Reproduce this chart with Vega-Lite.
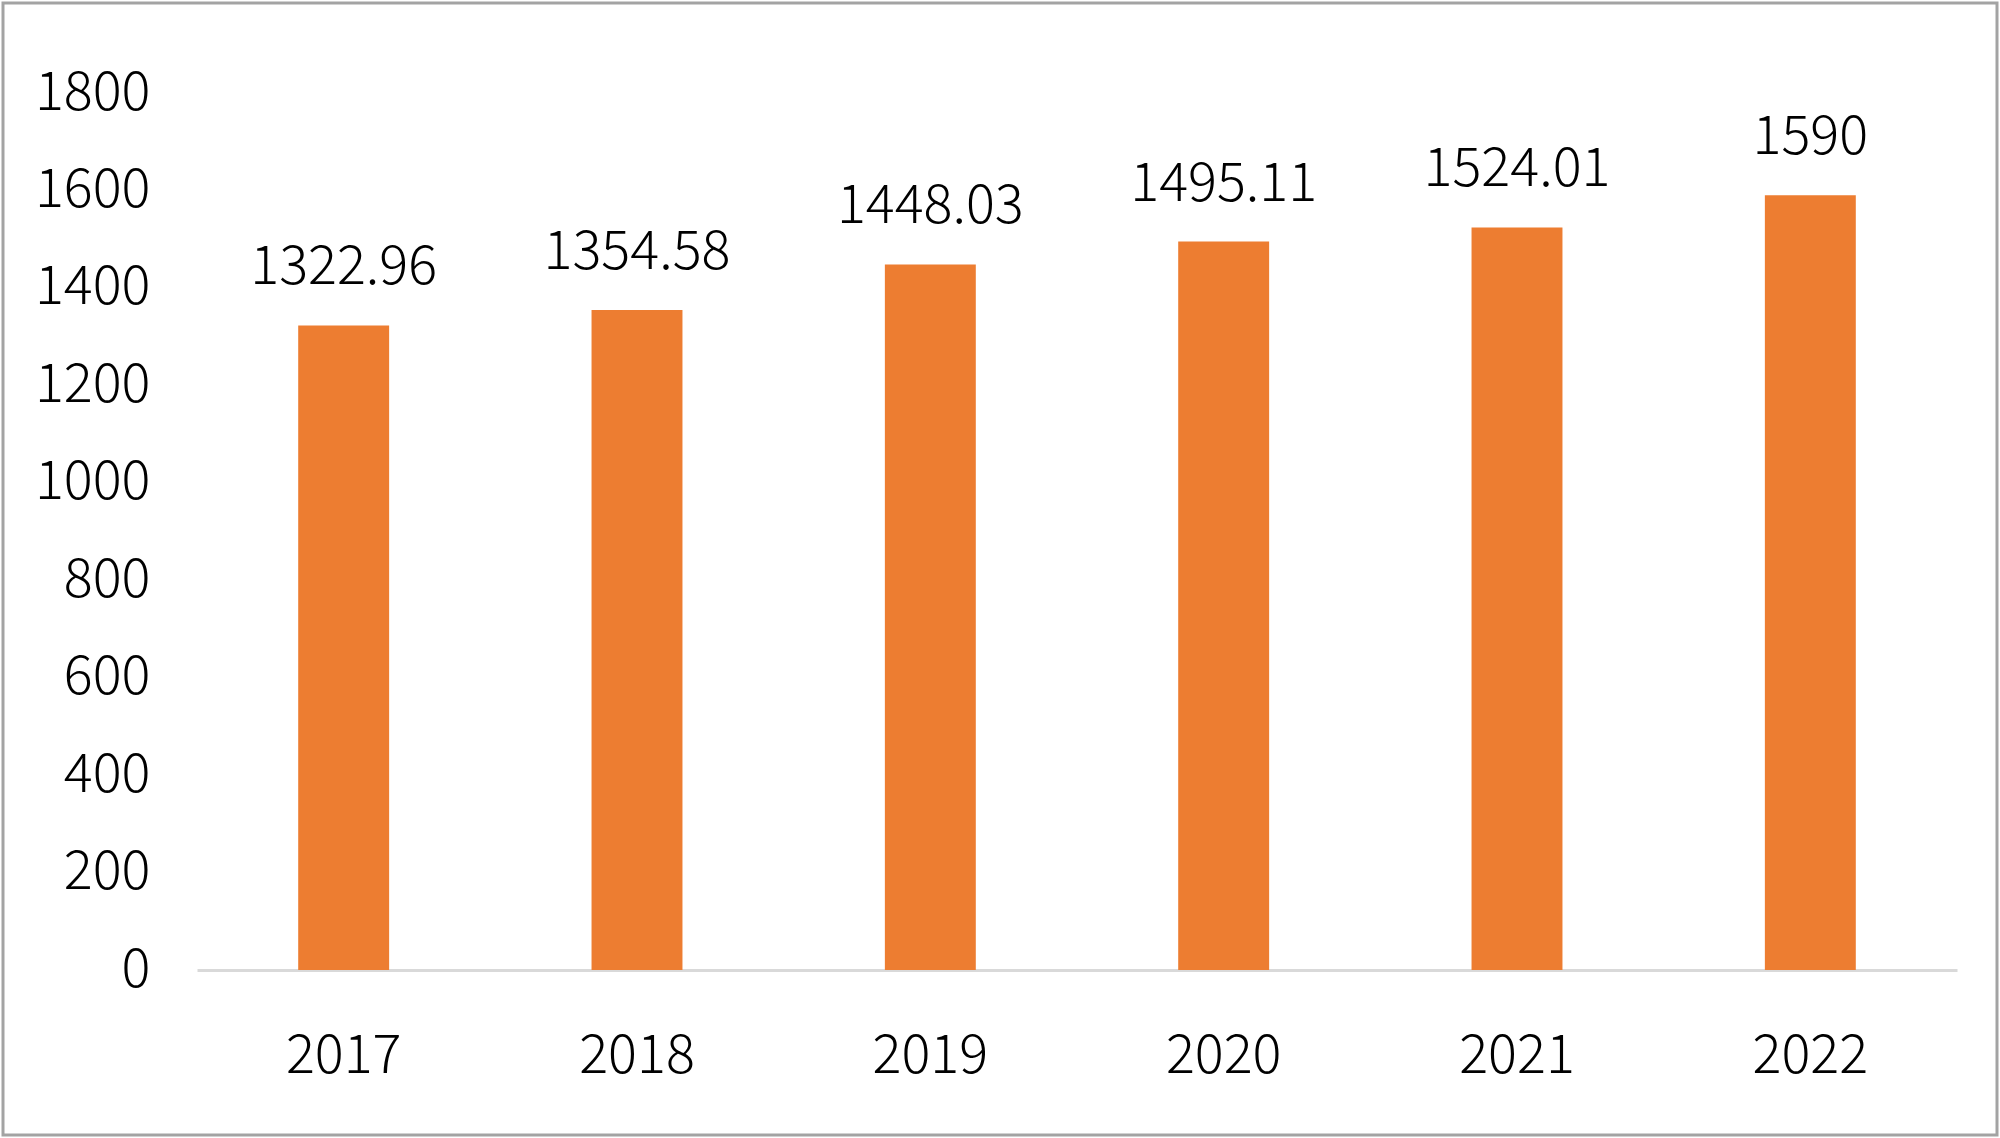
{
  "$schema": "https://vega.github.io/schema/vega-lite/v6.json",
  "width": 1994,
  "height": 1132,
  "padding": 3,
  "autosize": {"type": "none"},
  "background": "white",
  "config": {
    "view": {"stroke": "#a3a3a3", "strokeWidth": 3, "fill": "white"},
    "font": "Noto Sans CJK SC"
  },
  "data": {
    "values": [
      {"year": "2017", "value": 1322.96, "label": "1322.96"},
      {"year": "2018", "value": 1354.58, "label": "1354.58"},
      {"year": "2019", "value": 1448.03, "label": "1448.03"},
      {"year": "2020", "value": 1495.11, "label": "1495.11"},
      {"year": "2021", "value": 1524.01, "label": "1524.01"},
      {"year": "2022", "value": 1590, "label": "1590"}
    ]
  },
  "encoding": {
    "x": {
      "field": "year",
      "type": "ordinal",
      "sort": null,
      "scale": {"range": [194, 1954], "paddingInner": 0.69, "paddingOuter": 0.345},
      "axis": {
        "orient": "bottom",
        "offset": -165,
        "title": null,
        "labelAngle": 0,
        "domain": true,
        "domainColor": "#d9d9d9",
        "domainWidth": 3,
        "ticks": false,
        "tickSize": 0,
        "grid": false,
        "labelFontSize": 54,
        "labelFontWeight": 300,
        "labelColor": "#000000",
        "labelBaseline": "alphabetic",
        "labelPadding": 102
      }
    },
    "y": {
      "field": "value",
      "type": "quantitative",
      "scale": {"domain": [0, 1800], "range": [967, 90], "nice": false, "zero": true},
      "axis": {
        "orient": "left",
        "offset": -147,
        "title": null,
        "format": "d",
        "values": [0, 200, 400, 600, 800, 1000, 1200, 1400, 1600, 1800],
        "domain": false,
        "ticks": false,
        "tickSize": 0,
        "grid": false,
        "labelFontSize": 54,
        "labelFontWeight": 300,
        "labelColor": "#000000",
        "labelPadding": 0
      }
    }
  },
  "layer": [
    {"mark": {"type": "bar", "color": "#ED7D31"}},
    {
      "mark": {"type": "text", "baseline": "alphabetic", "dy": -41, "fontSize": 54, "fontWeight": 300, "color": "#000000"},
      "encoding": {"text": {"field": "label", "type": "nominal"}}
    }
  ]
}
